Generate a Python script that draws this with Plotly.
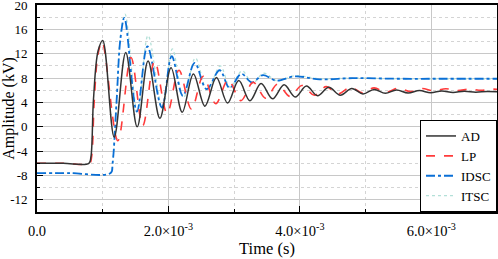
import plotly.graph_objects as go

# ---------------- data (time in ms, amplitude in kV) ----------------
ad_t = [0, 0.4, 0.79, 0.82, 0.86, 0.93, 1.00, 1.175, 1.35, 1.525, 1.69, 1.87, 2.04, 2.21,
        2.38, 2.555, 2.73, 2.90, 3.07, 3.24, 3.41, 3.585, 3.76, 3.93, 4.10, 4.27, 4.44,
        4.615, 4.79, 4.96, 5.13, 5.30, 5.47, 5.645, 5.82, 5.99, 6.16, 6.33, 6.50, 6.675,
        6.85, 7.0]
ad_v = [-6.0, -6.0, -6.0, -5.0, 4.6, 12.5, 14.2, -1.7, 12.2, 0.0, 10.8, 1.4, 9.7, 2.4,
        8.7, 3.4, 8.1, 3.9, 7.6, 4.3, 7.1, 4.6, 6.9, 4.9, 6.7, 5.1, 6.5,
        5.2, 6.3, 5.4, 6.15, 5.5, 6.05, 5.55, 5.95, 5.6, 5.9, 5.65, 5.85, 5.7,
        5.8, 5.75]

lp_t = [0, 0.4, 0.80, 0.83, 0.87, 0.93, 0.99, 1.23, 1.43, 1.61, 1.79, 1.98, 2.16, 2.35,
        2.53, 2.72, 2.91, 3.10, 3.29, 3.48, 3.66, 3.85, 4.03, 4.22, 4.40, 4.58, 4.77,
        4.95, 5.13, 5.31, 5.50, 5.68, 5.86, 6.04, 6.22, 6.40, 6.58, 6.76, 6.94, 7.0]
lp_v = [-6.0, -6.0, -6.0, -5.0, 4.0, 12.0, 14.0, -2.3, 11.4, 0.2, 10.8, 2.2, 9.3, 2.9,
        8.3, 3.8, 7.7, 4.3, 7.3, 4.7, 7.0, 5.0, 6.8, 5.2, 6.6, 5.4, 6.5,
        5.6, 6.4, 5.7, 6.35, 5.8, 6.3, 5.9, 6.25, 5.95, 6.2, 6.0, 6.2, 6.15]

idsc_t = [0, 0.5, 1.12, 1.15, 1.21, 1.27, 1.33, 1.52, 1.68, 1.90, 2.05, 2.22, 2.40, 2.58,
          2.78, 2.93, 3.11, 3.27, 3.44, 3.64, 3.93, 4.30, 4.80, 5.50, 6.20, 7.0]
idsc_v = [-7.6, -7.6, -7.6, -6.0, 4.0, 14.5, 17.9, 2.5, 13.2, 3.2, 11.6, 5.1, 10.5, 6.2,
          9.3, 6.4, 8.7, 7.3, 8.5, 7.6, 8.3, 7.8, 8.0, 7.9, 7.9, 7.9]

itsc_t = [0, 0.5, 1.12, 1.15, 1.21, 1.27, 1.34, 1.53, 1.69, 1.91, 2.06, 2.23, 2.41, 2.59,
          2.79, 2.94, 3.12, 3.28, 3.45, 3.65, 3.94, 4.30, 4.80, 5.50, 6.20, 7.0]
itsc_v = [-7.6, -7.6, -7.6, -6.0, 4.0, 15.0, 18.5, 2.3, 15.0, 3.0, 12.8, 4.8, 11.3, 6.0,
          10.0, 6.5, 9.2, 7.2, 8.8, 7.6, 8.4, 7.9, 8.0, 7.9, 7.9, 7.9]

x_tick_vals = [0, 2e-3, 4e-3, 6e-3]
x_tick_text = ["0.0", "2.0×10<sup>-3</sup>", "4.0×10<sup>-3</sup>", "6.0×10<sup>-3</sup>"]
y_tick_vals = [-12, -8, -4, 0, 4, 8, 12, 16, 20]
y_tick_text = ["-12", "-8", "-4", "0", "4", "8", "12", "16", "20"]

series = [
    ("ITSC", itsc_t, itsc_v, dict(color="#b3e0d8", width=1.3, dash="dot"), 4),
    ("IDSC", idsc_t, idsc_v, dict(color="#0a6fd6", width=1.8, dash="dashdot"), 3),
    ("LP", lp_t, lp_v, dict(color="#ff3b3b", width=1.6, dash="dash"), 2),
    ("AD", ad_t, ad_v, dict(color="#333333", width=1.5, dash="solid"), 1),
]

fig = go.Figure()
for name, t, v, line, rank in series:
    fig.add_trace(go.Scatter(
        x=[ti * 1e-3 for ti in t], y=v, name=name, mode="lines",
        line=dict(shape="spline", smoothing=1.0, **line), legendrank=rank))

fig.update_layout(
    width=498, height=259,
    margin=dict(l=37, r=1, t=5, b=47, autoexpand=False),
    paper_bgcolor="white", plot_bgcolor="white",
    font=dict(family="Liberation Serif", size=14, color="black"),
    showlegend=True,
    legend=dict(x=1, y=0, xanchor="right", yanchor="bottom",
                bgcolor="white", bordercolor="black", borderwidth=1,
                font=dict(size=13, family="Liberation Serif"),
                tracegroupgap=0, itemwidth=30),
)
fig.update_xaxes(
    range=[0, 7e-3], tickvals=x_tick_vals, ticktext=x_tick_text, automargin=False,
    tickfont=dict(size=14.5),
    ticks="inside", ticklen=6, tickwidth=1.2, tickcolor="black",
    showline=True, linecolor="black", linewidth=1.6, mirror=True,
    showgrid=True, gridcolor="#c8c8c8", gridwidth=1,
    zeroline=False, ticklabelstandoff=5, ticklabeloverflow="allow",
    minor=dict(tickvals=[1e-3, 3e-3, 5e-3], ticks="inside", ticklen=3,
               tickcolor="black", showgrid=True, gridcolor="#d4d4d4", griddash="dot"),
    title=dict(text="Time (s)", font=dict(size=16.5), standoff=2),
)
fig.update_yaxes(
    range=[-14, 20.02], tickvals=y_tick_vals, ticktext=y_tick_text, automargin=False,
    tickfont=dict(size=13),
    ticks="inside", ticklen=6, tickwidth=1.2, tickcolor="black",
    showline=True, linecolor="black", linewidth=1.6, mirror=True,
    showgrid=True, gridcolor="#c8c8c8", gridwidth=1,
    zeroline=False, ticklabelstandoff=5, ticklabeloverflow="allow",
    minor=dict(tickvals=[-14, -10, -6, -2, 2, 6, 10, 14, 18], ticks="inside", ticklen=3,
               tickcolor="black", showgrid=True, gridcolor="#d4d4d4", griddash="dot"),
    title=dict(text="Amplitude (kV)", font=dict(size=16), standoff=0),
)

fig.write_html("out.html", config={"displayModeBar": False},
               post_script="document.body.style.margin='0px';")
